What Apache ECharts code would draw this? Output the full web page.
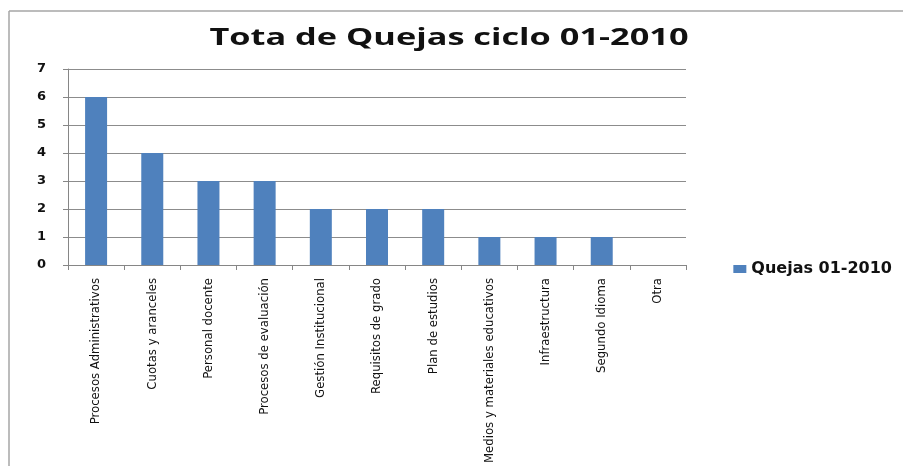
<!DOCTYPE html>
<html>
<head>
<meta charset="utf-8">
<script src="https://cdn.jsdelivr.net/npm/echarts@6/dist/echarts.min.js"></script>
<style>
  html, body { margin: 0; padding: 0; background: #ffffff; }
  #chart { width: 903px; height: 466px; }
</style>
</head>
<body>
<div id="chart"></div>
<script>
// Complaint categories for cycle 01-2010
const categories = [
  'Procesos Administrativos',
  'Cuotas y aranceles',
  'Personal docente',
  'Procesos de evaluación',
  'Gestión Institucional',
  'Requisitos de grado',
  'Plan de estudios',
  'Medios y materiales educativos',
  'Infraestructura',
  'Segundo Idioma',
  'Otra'
];
// Number of complaints per category
const quejas = [6, 4, 3, 3, 2, 2, 2, 1, 1, 1, 0];
const seriesName = 'Quejas 01-2010';
const chartTitle = 'Tota de Quejas ciclo 01-2010';
const yTicks = [0, 1, 2, 3, 4, 5, 6, 7];

const chart = echarts.init(document.getElementById('chart'), null, { renderer: 'canvas' });

const frameStyle = { stroke: '#a6a6a6', lineWidth: 1.5 };

chart.setOption({
  backgroundColor: '#ffffff',
  animation: false,
  graphic: [{
    // outer chart frame: top edge
    type: 'line',
    shape: { x1: 9, y1: 11, x2: 903, y2: 11 },
    style: frameStyle,
    silent: true
  }, {
    // outer chart frame: left edge
    type: 'line',
    shape: { x1: 9, y1: 11, x2: 9, y2: 466 },
    style: frameStyle,
    silent: true
  }, {
    // wide title text
    type: 'text',
    x: 449,
    y: 26,
    scaleX: 1.43,
    style: {
      text: chartTitle,
      align: 'center',
      verticalAlign: 'top',
      fontFamily: 'Open Sans',
      fontWeight: 'bold',
      fontSize: 24,
      fill: '#111111'
    },
    silent: true
  }],
  legend: {
    data: [seriesName],
    right: 6,
    top: 256,
    icon: 'rect',
    itemWidth: 13,
    itemHeight: 8,
    itemGap: 6,
    textStyle: {
      fontFamily: 'DejaVu Sans',
      fontWeight: 'bold',
      fontSize: 16,
      color: '#111111'
    }
  },
  grid: {
    left: 68,
    right: 217,
    top: 69,
    bottom: 197
  },
  xAxis: {
    type: 'category',
    data: categories,
    boundaryGap: true,
    axisLine: { lineStyle: { color: '#868686', width: 1 } },
    axisTick: { show: true, alignWithLabel: false, length: 5, lineStyle: { color: '#868686' } },
    axisLabel: {
      rotate: 90,
      interval: 0,
      margin: 13,
      fontFamily: 'DejaVu Sans Condensed',
      fontSize: 13,
      color: '#111111'
    }
  },
  yAxis: {
    type: 'value',
    min: yTicks[0],
    max: yTicks[yTicks.length - 1],
    interval: 1,
    axisLine: { show: true, lineStyle: { color: '#868686', width: 1 } },
    axisTick: { show: true, length: 5, lineStyle: { color: '#868686' } },
    axisLabel: {
      margin: 22,
      fontFamily: 'DejaVu Sans',
      fontWeight: 'bold',
      fontSize: 13,
      color: '#111111'
    },
    splitLine: { show: true, lineStyle: { color: '#8c8c8c', width: 1 } }
  },
  series: [{
    name: seriesName,
    type: 'bar',
    data: quejas,
    barWidth: 22,
    itemStyle: { color: '#4f81bd' }
  }]
});
</script>
</body>
</html>
